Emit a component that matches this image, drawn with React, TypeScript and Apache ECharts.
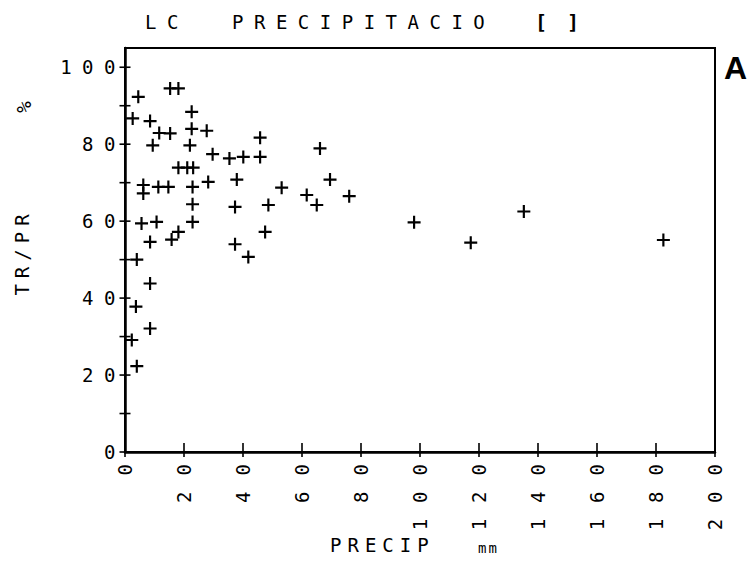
import React, { useEffect, useRef } from 'react';
import * as echarts from 'echarts';

// PRECIP (mm) and TR/PR (%)
const precip = [
  15.3, 18.1, 4.5, 2.6, 8.5, 22.6, 22.6, 27.7, 11.6, 15.3,
  9.4, 22.0, 45.8, 66.1, 29.7, 35.4, 40.1, 45.8, 18.1, 21.1,
  23.1, 37.9, 69.5, 6.2, 6.2, 11.3, 14.7, 22.9, 28.2, 53.1,
  61.6, 65.0, 76.0, 22.9, 37.3, 48.6, 5.6, 10.7, 22.9, 8.5,
  15.8, 18.1, 47.5, 37.3, 41.8, 4.0, 8.5, 3.7, 8.5, 2.3,
  4.0, 98.0, 117.2, 135.2, 182.5,
];
const trpr = [
  94.5, 94.5, 92.3, 86.7, 86.0, 88.4, 84.0, 83.5, 82.9, 82.8,
  79.7, 79.7, 81.7, 78.9, 77.4, 76.3, 76.7, 76.7, 73.9, 73.9,
  73.9, 70.8, 70.8, 69.4, 67.2, 68.9, 68.9, 68.9, 70.2, 68.7,
  66.8, 64.2, 66.5, 64.4, 63.7, 64.2, 59.4, 59.8, 59.8, 54.6,
  55.2, 57.2, 57.2, 54.0, 50.7, 50.0, 43.8, 37.8, 32.1, 29.1,
  22.3, 59.7, 54.4, 62.5, 55.1,
];
const xTickValues = [0, 20, 40, 60, 80, 100, 120, 140, 160, 180, 200];
const yTickValues = [0, 10, 20, 30, 40, 50, 60, 70, 80, 90, 100];
const yLabelValues = [0, 20, 40, 60, 80, 100];

const FONT = 'DejaVu Sans Mono';
const PLUS = 'path://M5,0h2v5h5v2h-5v5h-2v-5h-5v-2h5z';

function applySpacing(root: HTMLElement) {
  const texts = root.querySelectorAll('text');
  texts.forEach((t) => {
    const txt = (t.textContent || '').trim();
    const m = (t as SVGGraphicsElement).getCTM ? (t as SVGGraphicsElement).getCTM() : null;
    const rotated = !!m && Math.abs(m.b) > 0.5;
    let s = 10.5;
    if (txt === 'TR/PR') s = 6;
    else if (txt === '%') s = 0;
    else if (txt === 'PRECIP') s = 6;
    else if (txt === 'mm') s = 2;
    else if (txt === 'A') s = 0;
    else if (txt === '[]') s = 20;
    else if (rotated) s = 16;
    t.setAttribute('letter-spacing', String(s));
  });
}

export default function App() {
  const ref = useRef<HTMLDivElement>(null);
  useEffect(() => {
    const el = ref.current!;
    const chart = echarts.init(el, null, { renderer: 'svg' });
    const data = precip.map((x, i) => [x, trpr[i]]);
    const yTicks = yTickValues.map((v) => [0, v]);
    const xTicks = xTickValues.map((v) => [v, 0]);
    const axisLine = { show: true, lineStyle: { color: '#000', width: 2.5 } };
    chart.setOption({
      animation: false,
      backgroundColor: '#fff',
      grid: {
        left: 125, right: 41, top: 48, bottom: 111,
        show: true, borderColor: '#000', borderWidth: 2, backgroundColor: 'transparent',
      },
      xAxis: {
        type: 'value', min: 0, max: 200, interval: 20, position: 'bottom',
        axisLine,
        axisTick: { show: false },
        axisLabel: { rotate: 90, margin: -4, color: '#000', fontFamily: FONT, fontSize: 19 },
        splitLine: { show: false },
      },
      yAxis: {
        type: 'value', min: 0, max: 105, position: 'left',
        axisLine,
        axisTick: { show: false },
        axisLabel: { customValues: yLabelValues, margin: -1, color: '#000', fontFamily: FONT, fontSize: 19 },
        splitLine: { show: false },
      },
      series: [
        {
          type: 'scatter', data, clip: false,
          symbol: PLUS, symbolSize: 13, itemStyle: { color: '#000', opacity: 1 },
        },
        {
          type: 'scatter', data: yTicks, clip: false, silent: true,
          symbol: 'rect', symbolSize: [11, 1.6], itemStyle: { color: '#000', opacity: 1 },
        },
        {
          type: 'scatter', data: xTicks, clip: false, silent: true,
          symbol: 'rect', symbolSize: [1.6, 14], symbolOffset: [0, -2], itemStyle: { color: '#000', opacity: 1 },
        },
      ],
      graphic: [
        { type: 'text', style: { x: 145, y: 22, text: 'LC', font: `19px "${FONT}"`, fill: '#000', verticalAlign: 'middle' } },
        { type: 'text', style: { x: 232, y: 22, text: 'PRECIPITACIO', font: `19px "${FONT}"`, fill: '#000', verticalAlign: 'middle' } },
        { type: 'text', style: { x: 535, y: 22, text: '[]', font: `bold 20px "${FONT}"`, fill: '#000', verticalAlign: 'middle' } },
        { type: 'text', style: { x: 724, y: 68, text: 'A', font: 'bold 32px "Liberation Sans"', fill: '#000', verticalAlign: 'middle' } },
        { type: 'text', x: 22, y: 252, rotation: Math.PI / 2, style: { x: 0, y: 0, text: 'TR/PR', font: `19px "${FONT}"`, fill: '#000', align: 'center', verticalAlign: 'middle' } },
        { type: 'text', x: 24, y: 107, rotation: Math.PI / 2, style: { x: 0, y: 0, text: '%', font: `19px "${FONT}"`, fill: '#000', align: 'center', verticalAlign: 'middle' } },
        { type: 'text', style: { x: 330, y: 545, text: 'PRECIP', font: `19px "${FONT}"`, fill: '#000', verticalAlign: 'middle' } },
        { type: 'text', style: { x: 478, y: 548, text: 'mm', font: `14px "${FONT}"`, fill: '#000', verticalAlign: 'middle' } },
      ],
    });
    applySpacing(el);
    chart.on('finished', () => applySpacing(el));
    return () => chart.dispose();
  }, []);
  return <div ref={ref} style={{ position: 'fixed', left: 0, top: 0, width: 756, height: 563 }} />;
}
